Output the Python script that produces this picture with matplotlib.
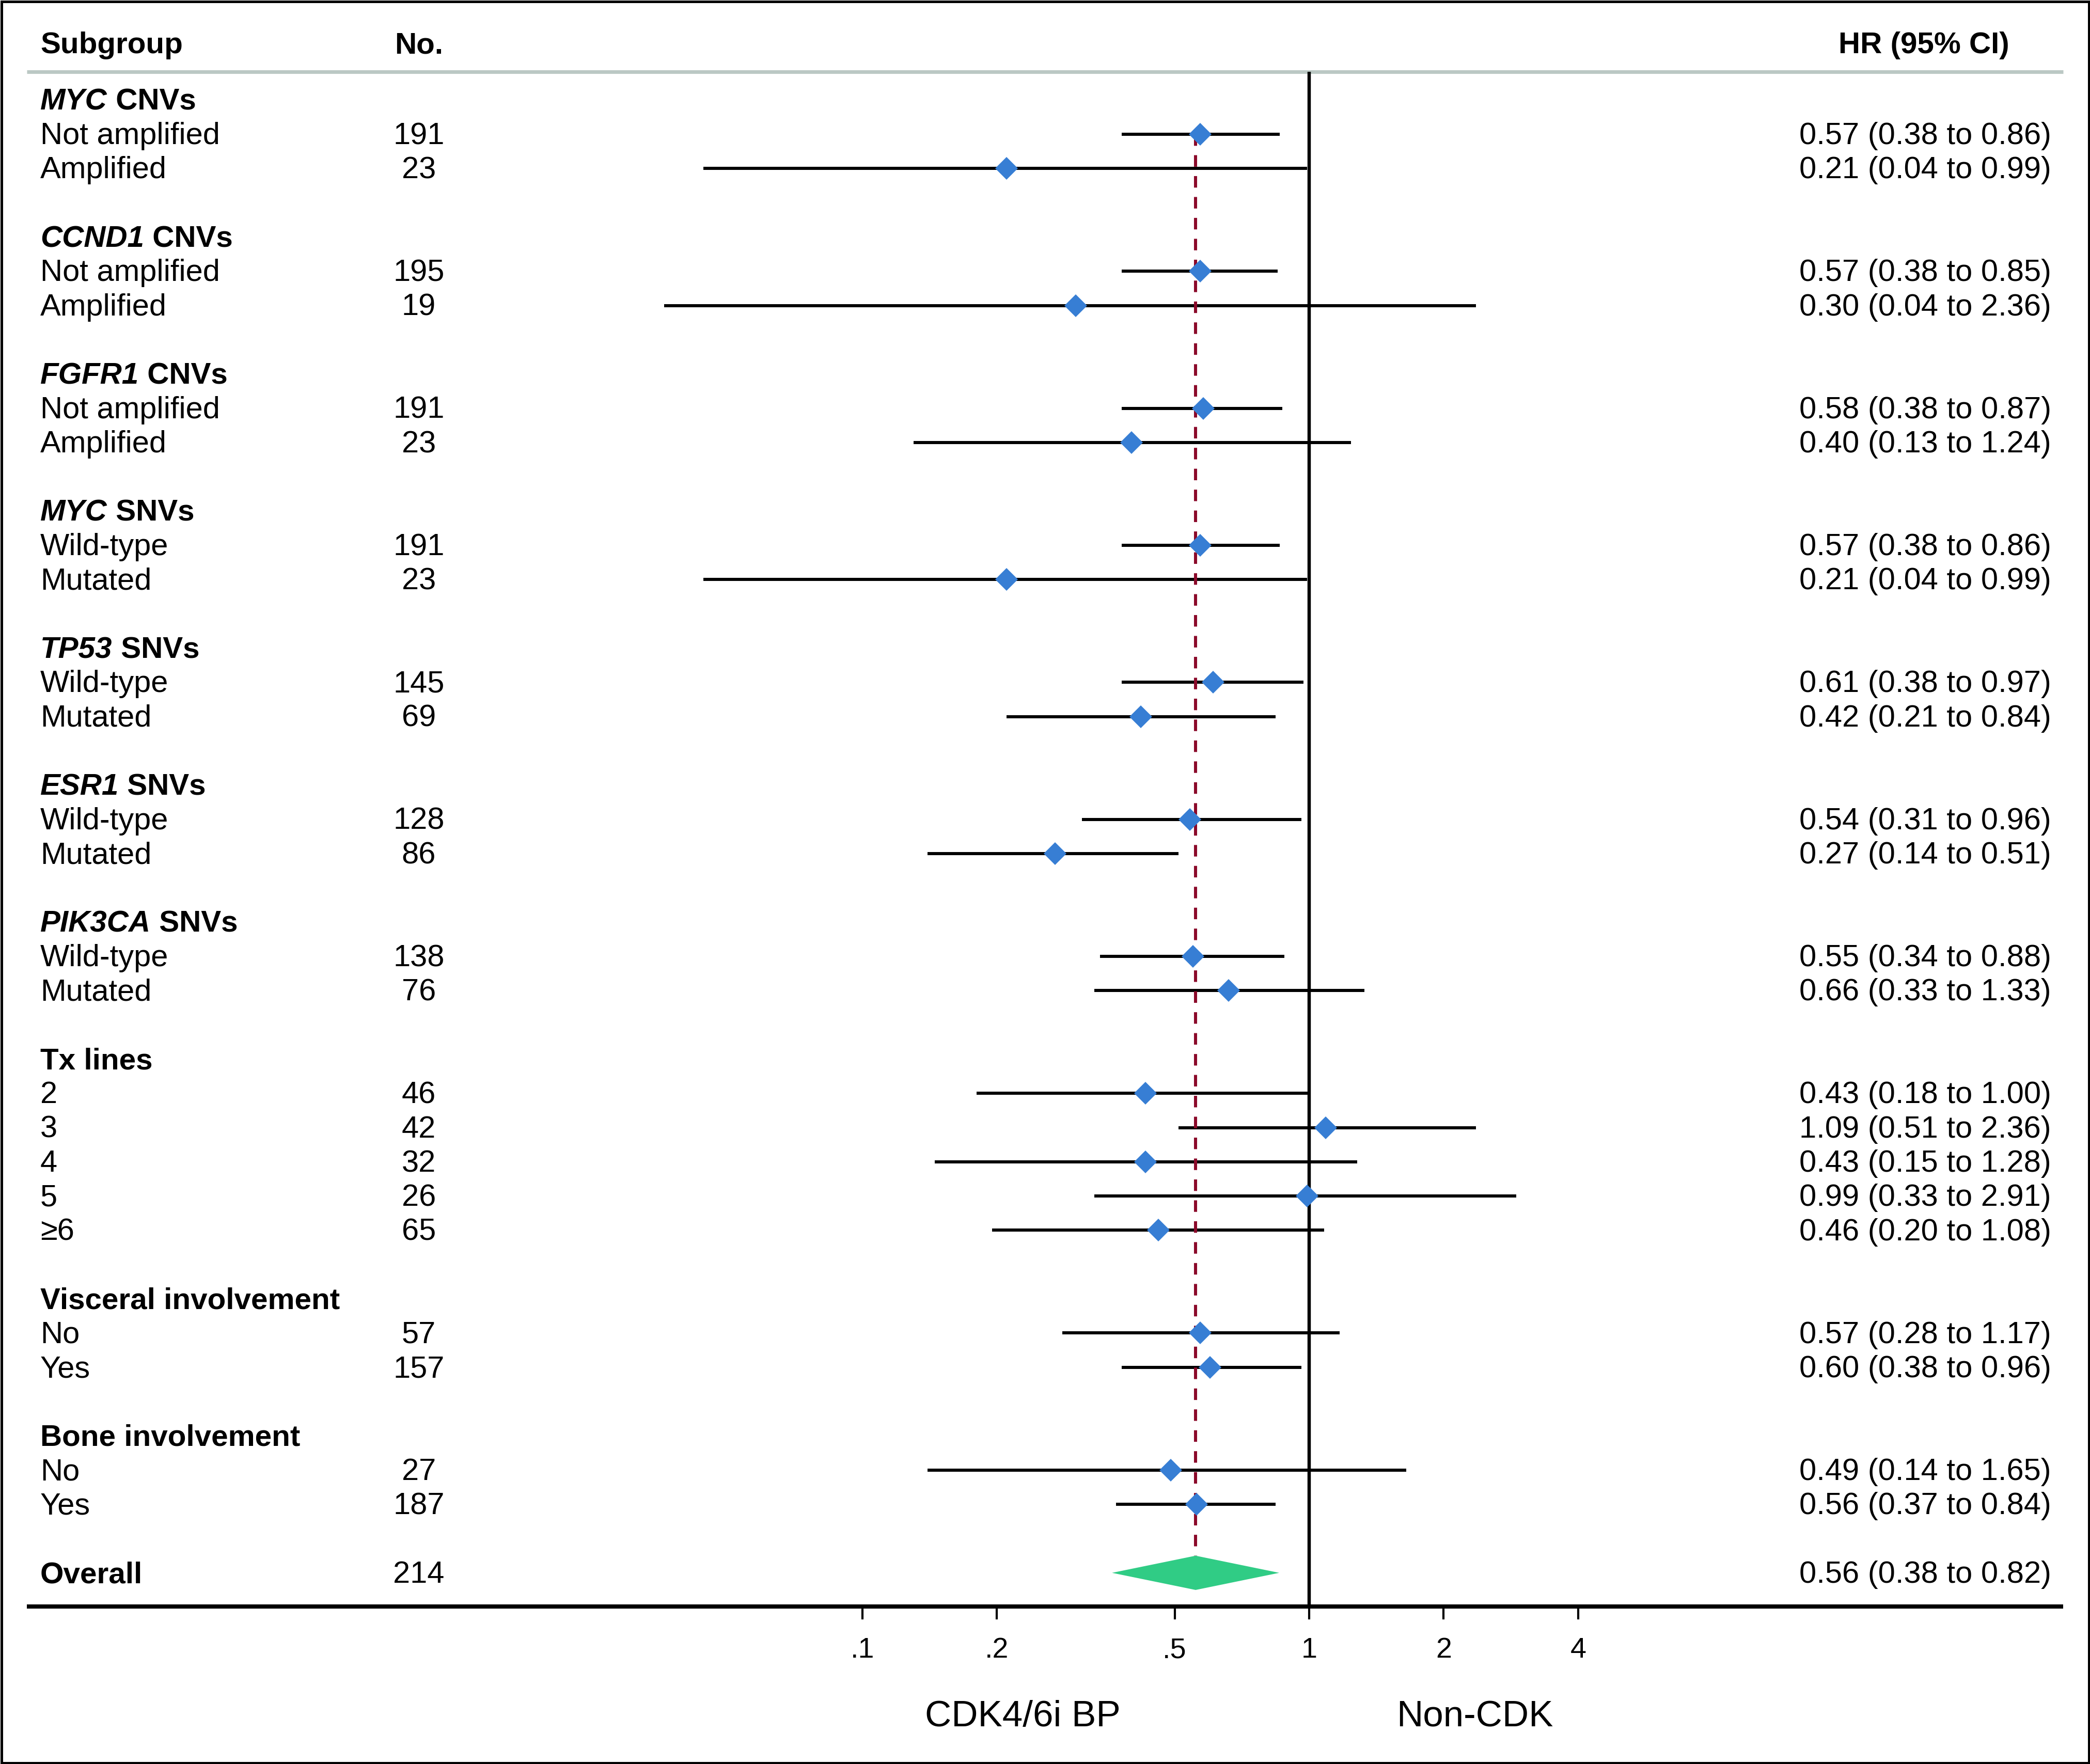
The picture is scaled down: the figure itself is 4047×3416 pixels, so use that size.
import matplotlib
matplotlib.use("Agg")
import matplotlib.pyplot as plt
from matplotlib.patches import Polygon, Rectangle
from matplotlib.transforms import blended_transform_factory

# ---------------- data ----------------
group_gene = ["MYC", "CCND1", "FGFR1", "MYC", "TP53", "ESR1", "PIK3CA", "", "", ""]
group_rest = [" CNVs", " CNVs", " CNVs", " SNVs", " SNVs", " SNVs", " SNVs",
              "Tx lines", "Visceral involvement", "Bone involvement"]
group_size = [2, 2, 2, 2, 2, 2, 2, 5, 2, 2]

labels = ["Not amplified", "Amplified", "Not amplified", "Amplified",
          "Not amplified", "Amplified", "Wild-type", "Mutated",
          "Wild-type", "Mutated", "Wild-type", "Mutated", "Wild-type", "Mutated",
          "2", "3", "4", "5", "\u22656", "No", "Yes", "No", "Yes"]
n_pat = [191, 23, 195, 19, 191, 23, 191, 23, 145, 69, 128, 86, 138, 76,
         46, 42, 32, 26, 65, 57, 157, 27, 187]
hr = [0.57, 0.21, 0.57, 0.30, 0.58, 0.40, 0.57, 0.21, 0.61, 0.42, 0.54, 0.27,
      0.55, 0.66, 0.43, 1.09, 0.43, 0.99, 0.46, 0.57, 0.60, 0.49, 0.56]
lo = [0.38, 0.044, 0.38, 0.036, 0.38, 0.13, 0.38, 0.044, 0.38, 0.21, 0.31, 0.14,
      0.34, 0.33, 0.18, 0.51, 0.145, 0.33, 0.195, 0.28, 0.38, 0.14, 0.37]
hi = [0.86, 0.99, 0.85, 2.36, 0.87, 1.24, 0.86, 0.99, 0.97, 0.84, 0.96, 0.51,
      0.88, 1.33, 1.00, 2.36, 1.28, 2.91, 1.08, 1.17, 0.96, 1.65, 0.84]
ci_text = ["0.57 (0.38 to 0.86)", "0.21 (0.04 to 0.99)",
           "0.57 (0.38 to 0.85)", "0.30 (0.04 to 2.36)",
           "0.58 (0.38 to 0.87)", "0.40 (0.13 to 1.24)",
           "0.57 (0.38 to 0.86)", "0.21 (0.04 to 0.99)",
           "0.61 (0.38 to 0.97)", "0.42 (0.21 to 0.84)",
           "0.54 (0.31 to 0.96)", "0.27 (0.14 to 0.51)",
           "0.55 (0.34 to 0.88)", "0.66 (0.33 to 1.33)",
           "0.43 (0.18 to 1.00)", "1.09 (0.51 to 2.36)",
           "0.43 (0.15 to 1.28)", "0.99 (0.33 to 2.91)",
           "0.46 (0.20 to 1.08)", "0.57 (0.28 to 1.17)",
           "0.60 (0.38 to 0.96)", "0.49 (0.14 to 1.65)",
           "0.56 (0.37 to 0.84)"]
overall_n = 214
overall_hr, overall_lo, overall_hi = 0.557, 0.362, 0.857
overall_text = "0.56 (0.38 to 0.82)"

tick_vals = [0.1, 0.2, 0.5, 1, 2, 4]
tick_labels = [".1", ".2", ".5", "1", "2", "4"]
left_label = "CDK4/6i BP"
right_label = "Non-CDK"

# ---------------- layout ----------------
W, H, DPI = 4047, 3416, 300
fig = plt.figure(figsize=(W / DPI, H / DPI), dpi=DPI)
ax = fig.add_axes([0, 0, 1, 1])
ax.axis("off")
ax.set_xscale("log")

X1PX = 2535.0        # pixel of HR=1
DEC = 865.0          # pixels per decade
ROW0 = 193.6         # pixel of row 0
ROWH = 66.33         # pixels per row
ax.set_xlim(10 ** ((0 - X1PX) / DEC), 10 ** ((W - X1PX) / DEC))
ax.set_ylim((H - ROW0) / ROWH, -ROW0 / ROWH)


def rowpx(p):
    return (p - ROW0) / ROWH


tr = blended_transform_factory(ax.transAxes, ax.transData)
FS = 14.3
FSB = 14.0
BODY = ["Liberation Sans", "DejaVu Sans"]
XL = 78 / W
XN = 811 / W
XR = 3972 / W
BASE = 0.29
renderer = fig.canvas.get_renderer()

# header
ax.text(XL, rowpx(103), "Subgroup", transform=tr, fontsize=FSB, fontweight="bold",
        family=BODY, va="baseline", ha="left")
ax.text(XN, rowpx(103), "No.", transform=tr, fontsize=FSB, fontweight="bold",
        family=BODY, va="baseline", ha="center")
ax.text(3891 / W, rowpx(103), "HR (95% CI)", transform=tr, fontsize=FSB,
        fontweight="bold", family=BODY, va="baseline", ha="right")
ax.plot([52 / W, 3995 / W], [rowpx(139)] * 2, transform=tr, color="#BBC8C4",
        lw=1.7, solid_capstyle="butt")

# rows
r = 0
k = 0
item_rows = []
for g in range(len(group_size)):
    yb = r + BASE
    if group_gene[g]:
        t1 = ax.text(XL, yb, group_gene[g], transform=tr, fontsize=FSB,
                     fontweight="bold", fontstyle="italic", family=BODY,
                     va="baseline", ha="left")
        bb = t1.get_window_extent(renderer)
        ax.text(bb.x1 / fig.bbox.width, yb, group_rest[g], transform=tr,
                fontsize=FSB, fontweight="bold", family=BODY, va="baseline",
                ha="left")
    else:
        ax.text(XL, yb, group_rest[g], transform=tr, fontsize=FSB,
                fontweight="bold", family=BODY, va="baseline", ha="left")
    for j in range(group_size[g]):
        rr = r + 1 + j
        item_rows.append(rr)
        ax.text(XL, rr + BASE, labels[k], transform=tr, fontsize=FS,
                family=BODY, va="baseline", ha="left")
        ax.text(XN, rr + BASE, str(n_pat[k]), transform=tr, fontsize=FS,
                family=BODY, va="baseline", ha="center")
        ax.text(XR, rr + BASE, ci_text[k], transform=tr, fontsize=FS,
                family=BODY, va="baseline", ha="right")
        k += 1
    r += group_size[g] + 2
overall_row = r

ax.text(XL, overall_row + BASE, "Overall", transform=tr, fontsize=FSB,
        fontweight="bold", family=BODY, va="baseline", ha="left")
ax.text(XN, overall_row + BASE, str(overall_n), transform=tr, fontsize=FS,
        family=BODY, va="baseline", ha="center")
ax.text(XR, overall_row + BASE, overall_text, transform=tr, fontsize=FS,
        family=BODY, va="baseline", ha="right")

# CI lines and markers
for i, rr in enumerate(item_rows):
    ax.plot([lo[i], hi[i]], [rr, rr], color="black", lw=1.45,
            solid_capstyle="butt", zorder=2)
ax.plot(hr, item_rows, linestyle="none", marker="D", ms=7.6, mew=0,
        color="#377ED4", zorder=4)

# reference lines
ax.plot([1, 1], [rowpx(139), rowpx(3111)], color="black", lw=1.55,
        solid_capstyle="butt", zorder=2)
ax.plot([overall_hr, overall_hr], [item_rows[0], overall_row - 0.5],
        color="#8B0A2A", lw=1.45, dashes=(3.7, 3.0), zorder=3)

# overall diamond
ax.add_patch(Polygon([(overall_lo, overall_row), (overall_hr, overall_row - 0.5),
                      (overall_hi, overall_row), (overall_hr, overall_row + 0.5)],
                     closed=True, facecolor="#30CC85", edgecolor="none", zorder=4))

# bottom axis
ax.plot([52 / W, 3995 / W], [rowpx(3111)] * 2, transform=tr, color="black",
        lw=1.95, solid_capstyle="butt")
for tv, tl in zip(tick_vals, tick_labels):
    ax.plot([tv, tv], [rowpx(3115), rowpx(3136)], color="black", lw=1.0,
            solid_capstyle="butt")
    ax.text(tv, rowpx(3210), tl, fontsize=13.4, family=BODY, ha="center",
            va="baseline")
ax.text(1980 / W, rowpx(3343), left_label, transform=tr, fontsize=17,
        family=BODY, ha="center", va="baseline")
ax.text(2856 / W, rowpx(3343), right_label, transform=tr, fontsize=17,
        family=BODY, ha="center", va="baseline")

# outer frame
fig.add_artist(Rectangle((2.5 / W, 2.5 / H), 1 - 5 / W, 1 - 5 / H,
                         transform=fig.transFigure, fill=False,
                         edgecolor="black", lw=1.2))

fig.savefig("out.png", dpi=DPI, facecolor="white")
